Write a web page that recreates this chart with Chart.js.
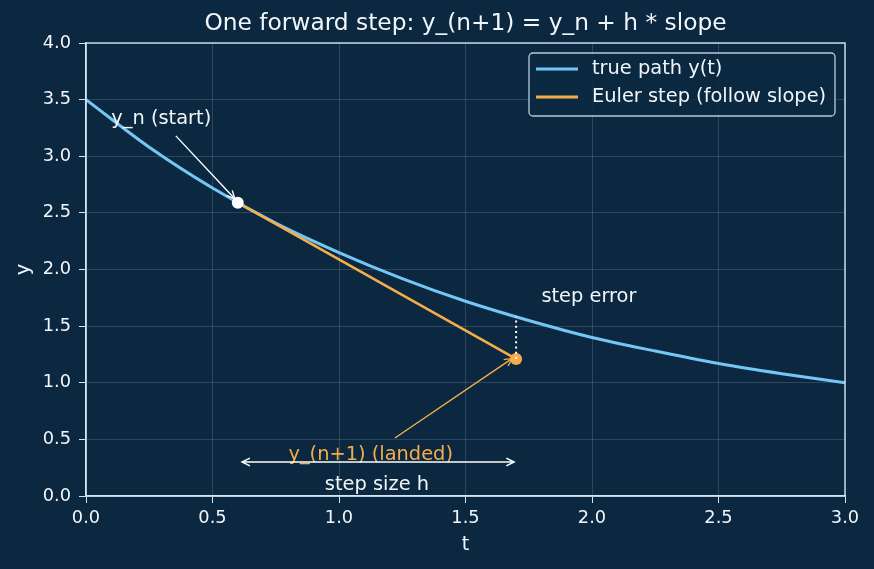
<!DOCTYPE html>
<html><head><meta charset="utf-8">
<script src="https://cdn.jsdelivr.net/npm/chart.js@4.4.0/dist/chart.umd.min.js"></script>
<style>html,body{margin:0;padding:0;background:#0b2840;}canvas{display:block;}</style>
</head><body>
<canvas id="c" width="874" height="569"></canvas>
<script>
// ---- data ----
const tValues = [0, 0.25, 0.5, 0.75, 1.0, 1.25, 1.5, 1.75, 2.0, 2.25, 2.5, 2.75, 3.0];
const yTrue   = [3.50, 3.08, 2.72, 2.41, 2.15, 1.92, 1.72, 1.55, 1.40, 1.28, 1.17, 1.08, 1.00];
const eulerT  = [0.6, 1.7];
const eulerY  = [2.59, 1.21];
const trueAtLanding = 1.585;
const xTicks = [0, 0.5, 1.0, 1.5, 2.0, 2.5, 3.0];
const yTicks = [0, 0.5, 1.0, 1.5, 2.0, 2.5, 3.0, 3.5, 4.0];
const seriesLabels = ['true path y(t)', 'Euler step (follow slope)'];
const titleText = 'One forward step: y_(n+1) = y_n + h * slope';
const xLabel = 't', yLabel = 'y';
const annotationTexts = ['y_n (start)', 'step error', 'y_(n+1) (landed)', 'step size h'];

// ---- styles ----
const BG = '#0b2840';
const BLUE = '#74c7f5';
const ORANGE = '#f5ad4c';
const FG = '#f2f6fa';
const SPINE = '#d3e3f2';
const GRID = 'rgba(190,210,230,0.18)';
const FONT = "'DejaVu Sans', sans-serif";

function arrowHead(ctx, x1, y1, x2, y2, size, ang) {
  const a = Math.atan2(y2 - y1, x2 - x1);
  ctx.beginPath();
  ctx.moveTo(x2 - size * Math.cos(a - ang), y2 - size * Math.sin(a - ang));
  ctx.lineTo(x2, y2);
  ctx.lineTo(x2 - size * Math.cos(a + ang), y2 - size * Math.sin(a + ang));
  ctx.stroke();
}
function arrow(ctx, x1, y1, x2, y2, color, w, both) {
  ctx.save();
  ctx.strokeStyle = color; ctx.lineWidth = w; ctx.lineCap = 'butt';
  ctx.beginPath(); ctx.moveTo(x1, y1); ctx.lineTo(x2, y2); ctx.stroke();
  arrowHead(ctx, x1, y1, x2, y2, 8.7, 0.46);
  if (both) arrowHead(ctx, x2, y2, x1, y1, 8.7, 0.46);
  ctx.restore();
}

const decor = {
  id: 'decor',
  beforeDraw(chart) {
    const ctx = chart.ctx;
    ctx.save(); ctx.fillStyle = BG; ctx.fillRect(0, 0, chart.width, chart.height); ctx.restore();
  },
  afterDatasetsDraw(chart) {
    const ctx = chart.ctx, xs = chart.scales.x, ys = chart.scales.y;
    const X = v => xs.getPixelForValue(v), Y = v => ys.getPixelForValue(v);
    ctx.save();
    // dotted step error
    ctx.strokeStyle = '#ffffff'; ctx.lineWidth = 2; ctx.setLineDash([2, 3.2]);
    ctx.beginPath(); ctx.moveTo(X(eulerT[1]), Y(eulerY[1])); ctx.lineTo(X(eulerT[1]), Y(trueAtLanding)); ctx.stroke();
    ctx.setLineDash([]);
    // texts
    ctx.font = '19.4px ' + FONT; ctx.textBaseline = 'middle';
    ctx.fillStyle = FG; ctx.textAlign = 'left';
    ctx.fillText(annotationTexts[0], X(0.1), Y(3.33));
    ctx.fillText(annotationTexts[1], X(1.8), Y(1.76));
    ctx.fillStyle = ORANGE;
    ctx.fillText(annotationTexts[2], X(0.8), Y(0.36));
    ctx.fillStyle = FG; ctx.textAlign = 'center';
    ctx.fillText(annotationTexts[3], X(1.15), Y(0.10));
    // arrows
    arrow(ctx, X(0.355), Y(3.18), X(0.588), Y(2.625), '#ffffff', 1.4, false);
    arrow(ctx, X(1.221), Y(0.512), X(1.685), Y(1.215), ORANGE, 1.4, false);
    arrow(ctx, X(0.617), Y(0.30), X(1.692), Y(0.30), '#ffffff', 1.5, true);
    ctx.restore();
  },
  afterDraw(chart) {
    const ctx = chart.ctx, a = chart.chartArea;
    ctx.save();
    // title centred over the plot area
    ctx.font = '23.3px ' + FONT; ctx.fillStyle = FG; ctx.textAlign = 'center'; ctx.textBaseline = 'middle';
    ctx.fillText(titleText, (a.left + a.right) / 2, 24);
    // spines on all four sides
    ctx.strokeStyle = SPINE; ctx.lineWidth = 1.4;
    ctx.strokeRect(a.left, a.top, a.right - a.left, a.bottom - a.top);
    // legend
    const w = 306, h = 63, bx = a.right - 10 - w, by = a.top + 10;
    ctx.beginPath();
    if (ctx.roundRect) ctx.roundRect(bx, by, w, h, 4); else ctx.rect(bx, by, w, h);
    ctx.fillStyle = 'rgba(11,40,64,0.85)'; ctx.fill();
    ctx.strokeStyle = 'rgba(215,230,245,0.85)'; ctx.lineWidth = 1.3; ctx.stroke();
    const colors = [BLUE, ORANGE];
    ctx.font = '19.4px ' + FONT; ctx.textBaseline = 'middle'; ctx.textAlign = 'left';
    for (let i = 0; i < 2; i++) {
      const yy = by + 16 + i * 28;
      ctx.strokeStyle = colors[i]; ctx.lineWidth = 3;
      ctx.beginPath(); ctx.moveTo(bx + 7, yy); ctx.lineTo(bx + 49, yy); ctx.stroke();
      ctx.fillStyle = FG; ctx.fillText(seriesLabels[i], bx + 63, yy);
    }
    ctx.restore();
  }
};

new Chart(document.getElementById('c'), {
  type: 'scatter',
  data: {
    datasets: [
      { label: seriesLabels[0], data: tValues.map((t, i) => ({x: t, y: yTrue[i]})), showLine: true,
        borderColor: BLUE, borderWidth: 3, pointRadius: 0, tension: 0.4, cubicInterpolationMode: 'monotone', order: 4 },
      { label: seriesLabels[1], data: eulerT.map((t, i) => ({x: t, y: eulerY[i]})), showLine: true,
        borderColor: ORANGE, borderWidth: 2.6, pointRadius: 0, order: 3 },
      { label: 'start', data: [{x: eulerT[0], y: eulerY[0]}], pointRadius: 6, pointBackgroundColor: '#ffffff',
        pointBorderWidth: 0, borderColor: '#ffffff', order: 1 },
      { label: 'landed', data: [{x: eulerT[1], y: eulerY[1]}], pointRadius: 6, pointBackgroundColor: ORANGE,
        pointBorderWidth: 0, borderColor: ORANGE, order: 2 }
    ]
  },
  options: {
    responsive: false, animation: false, devicePixelRatio: 1,
    layout: { padding: { left: 0, right: 29, top: 43, bottom: 0 } },
    plugins: {
      legend: { display: false },
      tooltip: { enabled: false },
      title: { display: false }
    },
    scales: {
      x: {
        type: 'linear', min: 0, max: 3,
        afterBuildTicks: s => { s.ticks = xTicks.map(v => ({value: v})); },
        afterFit: s => { s.height = 73; },
        ticks: { color: FG, font: { family: FONT, size: 17.8 }, padding: 5, maxRotation: 0,
                 callback: v => Number(v).toFixed(1) },
        grid: { color: GRID, lineWidth: 1, tickColor: SPINE, tickLength: 7, drawTicks: true },
        border: { color: SPINE, width: 1.4 },
        title: { display: true, text: xLabel, color: FG, font: { family: FONT, size: 19.4 }, padding: { top: 0, bottom: 12 } }
      },
      y: {
        type: 'linear', min: 0, max: 4,
        afterBuildTicks: s => { s.ticks = yTicks.map(v => ({value: v})); },
        afterFit: s => { s.width = 86; },
        ticks: { color: FG, font: { family: FONT, size: 17.8 }, padding: 8,
                 callback: v => Number(v).toFixed(1) },
        grid: { color: GRID, lineWidth: 1, tickColor: SPINE, tickLength: 7, drawTicks: true },
        border: { color: SPINE, width: 1.4 },
        title: { display: true, text: yLabel, color: FG, font: { family: FONT, size: 19.4 }, padding: { top: 12, bottom: 0 } }
      }
    }
  },
  plugins: [decor]
});
</script>
</body></html>
